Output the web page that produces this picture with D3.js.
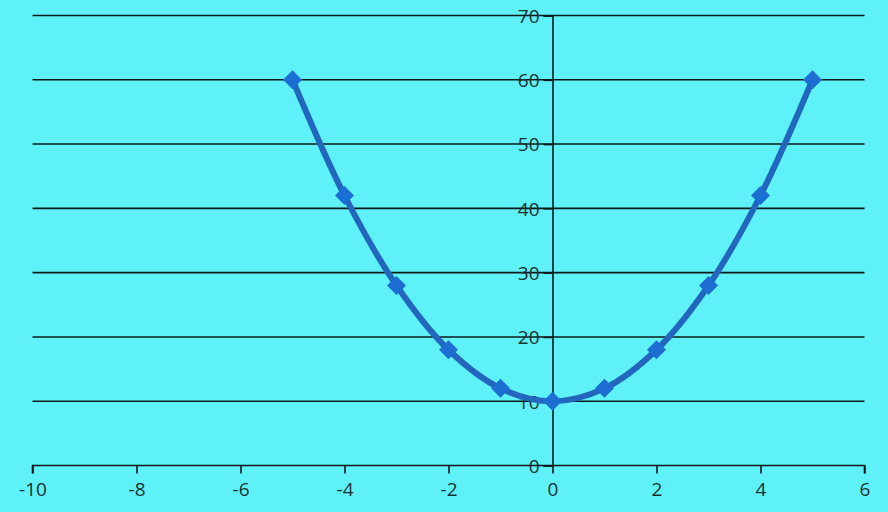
<!DOCTYPE html>
<html><head><meta charset="utf-8">
<script src="https://cdn.jsdelivr.net/npm/d3@7"></script>
<style>html,body{margin:0;padding:0;background:#5ef1f7;}svg{display:block;}</style>
</head><body><svg id="c" width="888" height="512"></svg>
<script>
const xValues = [-5, -4, -3, -2, -1, 0, 1, 2, 3, 4, 5];
const yValues = [60, 42, 28, 18, 12, 10, 12, 18, 28, 42, 60];
const xTicks = [-10, -8, -6, -4, -2, 0, 2, 4, 6];
const yTicks = [0, 10, 20, 30, 40, 50, 60, 70];

const W = 888, H = 512;
const svg = d3.select('#c');
svg.append('rect').attr('width', W).attr('height', H).attr('fill', '#5ef1f7');

const x = d3.scaleLinear().domain([-10, 6]).range([32.5, 864.5]);
const y = d3.scaleLinear().domain([0, 70]).range([465.5, 15.5]);
const font = "'Open Sans', 'Liberation Sans', sans-serif";
const ink = '#1c3232';
const fmt = d => String(d);

// gridlines
svg.append('g').selectAll('line').data(yTicks.filter(d => d > 0)).join('line')
  .attr('x1', x(-10)).attr('x2', x(6))
  .attr('y1', d => y(d)).attr('y2', d => y(d))
  .attr('stroke', '#111a1a').attr('stroke-width', 1.6);

// y axis at x=0
const yAxis = d3.axisLeft(y).tickValues(yTicks).tickSize(9).tickPadding(4).tickFormat(fmt);
const gy = svg.append('g').attr('transform', `translate(${x(0)},0)`).call(yAxis);
gy.select('.domain').attr('stroke', '#111a1a').attr('stroke-width', 1.6);
gy.selectAll('.tick line').attr('stroke', '#111a1a').attr('stroke-width', 1.6);
gy.selectAll('.tick text').attr('font-family', font).attr('font-size', 19).attr('fill', ink).attr('dy', '0.36em');

// x axis at y=0
const xAxis = d3.axisBottom(x).tickValues(xTicks).tickSize(8).tickPadding(9).tickFormat(fmt);
const gx = svg.append('g').attr('transform', `translate(0,${y(0)})`).call(xAxis);
gx.select('.domain').attr('stroke', '#111a1a').attr('stroke-width', 1.6).attr('d', `M${x(-10)},8V0H${x(6)}V8`);
gx.selectAll('.tick line').attr('stroke', '#111a1a').attr('stroke-width', 1.6);
gx.selectAll('.tick text').attr('font-family', font).attr('font-size', 19).attr('fill', ink);

const data = xValues.map((v, i) => ({x: v, y: yValues[i]}));
const line = d3.line().x(d => x(d.x)).y(d => y(d.y)).curve(d3.curveCatmullRom.alpha(0.5));
svg.append('path').datum(data).attr('d', line)
  .attr('fill', 'none').attr('stroke', '#2266be').attr('stroke-width', 6).attr('stroke-linejoin', 'round');

const sym = d3.symbol().type(d3.symbolDiamond2).size(230);
svg.append('g').selectAll('path').data(data).join('path')
  .attr('transform', d => `translate(${x(d.x)},${y(d.y)})`)
  .attr('d', sym).attr('fill', '#1d6ed2');
</script></body></html>
